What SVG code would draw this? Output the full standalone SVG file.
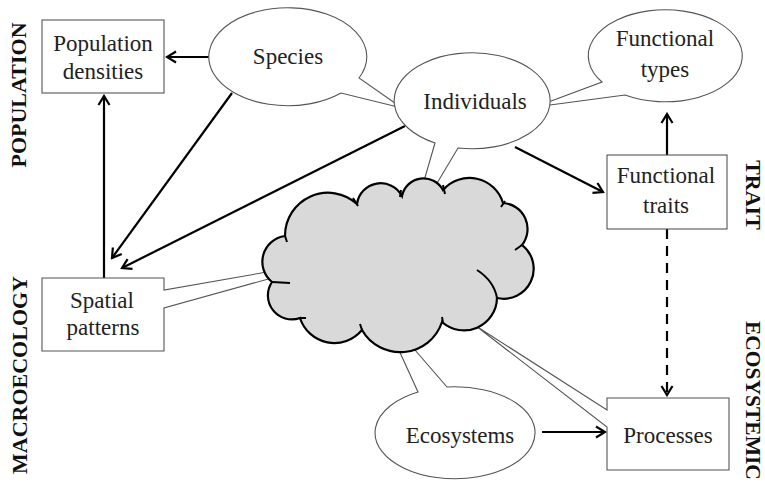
<svg xmlns="http://www.w3.org/2000/svg" width="765" height="483" viewBox="0 0 765 483">
<style>
.bub{fill:#fff;stroke:#555;stroke-width:1.1}
.t{font-family:"Liberation Serif",serif;font-size:23px;fill:#222;text-anchor:middle}
.side{font-family:"Liberation Serif",serif;font-size:22px;font-weight:bold;fill:#111;text-anchor:middle}
.ar{fill:none;stroke:#000;stroke-width:2.2}
.hook{fill:none;stroke:#000;stroke-width:2}
</style>
<defs>
<marker id="ah" viewBox="-12 -8 14 16" markerWidth="14" markerHeight="16" refX="0" refY="0" orient="auto" markerUnits="userSpaceOnUse">
<path d="M-9,-5.5 L0,0 L-9,5.5" fill="none" stroke="#000" stroke-width="2.2"/>
</marker>
</defs>
<rect width="765" height="483" fill="#fff"/>

<g id="connectors">
<line class="ar" x1="210" y1="57" x2="167" y2="57" marker-end="url(#ah)"/>
<line class="ar" x1="104" y1="278" x2="104" y2="96" marker-end="url(#ah)"/>
<line class="ar" x1="232" y1="93" x2="112" y2="258" marker-end="url(#ah)"/>
<line class="ar" x1="405" y1="126" x2="122" y2="268" marker-end="url(#ah)"/>
<line class="ar" x1="515" y1="147" x2="603" y2="192" marker-end="url(#ah)"/>
<line class="ar" x1="667" y1="155" x2="667" y2="114" marker-end="url(#ah)"/>
<line class="ar" x1="667" y1="229" x2="667" y2="395" stroke-dasharray="10,7" marker-end="url(#ah)"/>
<line class="ar" x1="542" y1="432" x2="605" y2="432" marker-end="url(#ah)"/>
</g>

<g id="species">
<path class="bub" d="M359,78 A79,49 0 1 0 341,93 L402,108 Z"/>
<text class="t" x="288" y="64">Species</text>
</g>

<g id="functional-types">
<path class="bub" d="M602,82 A77,46 0 1 1 625,95 L535,107 Z"/>
<text class="t" x="665" y="46">Functional</text>
<text class="t" x="665" y="77">types</text>
</g>

<g id="individuals">
<path class="bub" d="M435,143 A78,48 0 1 1 458,148 L424,205 L417,205 Z"/>
<text class="t" x="475" y="109">Individuals</text>
</g>

<g id="population-densities">
<rect class="bub" x="42" y="20" width="122" height="73"/>
<text class="t" x="103" y="51">Population</text>
<text class="t" x="103" y="79">densities</text>
</g>

<g id="spatial-patterns">
<path class="bub" d="M42,278 H164 V290 L290,268 L290,273 L164,308 V351 H42 Z"/>
<text class="t" x="102" y="308">Spatial</text>
<text class="t" x="103" y="335">patterns</text>
</g>

<g id="functional-traits">
<rect class="bub" x="607" y="155" width="120" height="74"/>
<text class="t" x="666" y="183">Functional</text>
<text class="t" x="666" y="213">traits</text>
</g>

<g id="ecosystems">
<path class="bub" d="M418,392 A80,46 0 1 0 447,387 L402,335 L392,335 Z"/>
<text class="t" x="460" y="443">Ecosystems</text>
</g>

<g id="processes">
<path class="bub" d="M607,398 H729 V470 H607 V427 L476,326 L607,410 Z"/>
<text class="t" x="668" y="443">Processes</text>
</g>

<g id="cloud">
<path d="M285,236 A43,43 0 0 1 357,204 A24,24 0 0 1 402,196 A22,22 0 0 1 443,190 A35,35 0 0 1 503,203 A26,26 0 0 1 522,245 A30,30 0 0 1 497,298 A33,33 0 0 1 442,322 A44,44 0 0 1 362,330 A36,36 0 0 1 300,318 A24,24 0 0 1 272,282 A26,26 0 0 1 285,236 Z" fill="#d9d9d9" stroke="#000" stroke-width="2.2"/>
<path class="hook" d="M353,198 L358,206 M401,190 L400,197 M443,185 L445,194 M505,201 L501,207 M522,245 L515,250 M477,270 Q494,281 497,298 M442,317 L443,323 M362,330 L360,324 M300,318 L306,318 M272,282 L290,283 M285,236 L287,242"/>
</g>

<g id="labels">
<text class="side" transform="translate(26,95) rotate(-90)">POPULATION</text>
<text class="side" transform="translate(27,375) rotate(-90)">MACROECOLOGY</text>
<text class="side" transform="translate(746,195) rotate(90)">TRAIT</text>
<text class="side" transform="translate(746,321) rotate(90)" style="text-anchor:start;font-size:21.5px">ECOSYSTEMIC</text>
</g>
</svg>
